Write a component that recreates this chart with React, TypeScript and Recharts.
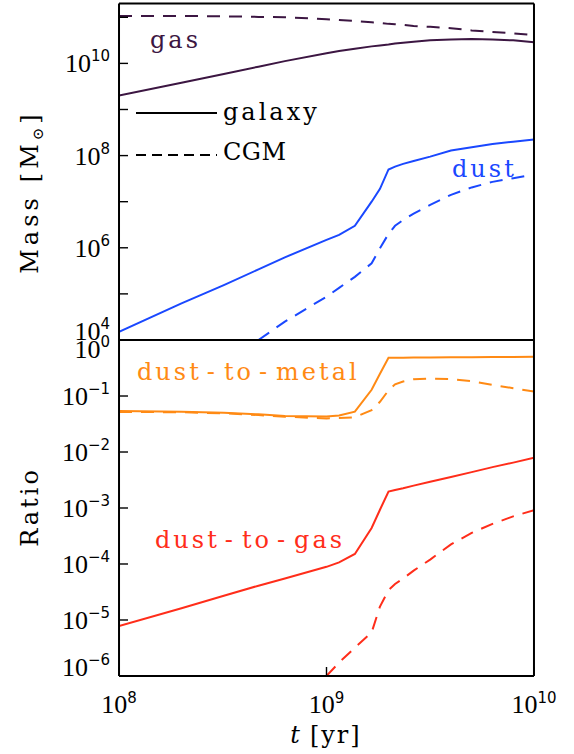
import React from 'react';
import { LineChart, Line, XAxis, YAxis, Legend } from 'recharts';

// time [yr]
const times = [1.0e8, 2.0e8, 3.2e8, 4.7e8, 6.3e8, 1.0e9, 1.15e9, 1.37e9, 1.65e9, 1.81e9, 1.99e9, 2.14e9, 2.34e9, 2.63e9, 3.16e9, 3.98e9, 5.01e9, 6.31e9, 7.94e9, 1.0e10];

// Mass panel [Msun]
const gasGalaxy = [2.0e9, 3.8e9, 5.9e9, 8.5e9, 1.12e10, 1.66e10, 1.86e10, 2.09e10, 2.34e10, 2.45e10, 2.57e10, 2.69e10, 2.82e10, 2.95e10, 3.16e10, 3.31e10, 3.39e10, 3.31e10, 3.16e10, 2.88e10];
const gasCGM = [1.07e11, 1.07e11, 1.05e11, 1.02e11, 1.0e11, 9.1e10, 8.7e10, 8.3e10, 7.8e10, 7.6e10, 7.2e10, 7.1e10, 6.9e10, 6.5e10, 6.2e10, 5.8e10, 5.2e10, 4.8e10, 4.5e10, 4.1e10];
const dustGalaxy = [1.5e4, 6.2e4, 1.55e5, 3.4e5, 6.2e5, 1.48e6, 1.9e6, 3.0e6, 1.0e7, 1.9e7, 5.0e7, 5.75e7, 6.6e7, 7.6e7, 9.5e7, 1.29e8, 1.51e8, 1.78e8, 2.0e8, 2.24e8];
const dustCGM = [null, null, null, 1.0e4, 2.5e4, 8.7e4, 1.35e5, 2.34e5, 4.6e5, 9.8e5, 2.0e6, 3.0e6, 4.0e6, 5.5e6, 8.5e6, 1.41e7, 2.04e7, 2.69e7, 3.24e7, 3.9e7];

// Ratio panel
const dtmGalaxy = [0.054, 0.0525, 0.050, 0.047, 0.044, 0.043, 0.045, 0.0525, 0.129, 0.25, 0.483, 0.484, 0.484, 0.485, 0.488, 0.49, 0.493, 0.497, 0.50, 0.504];
const dtmCGM = [0.0519, 0.0513, 0.049, 0.0457, 0.0427, 0.0398, 0.0403, 0.0417, 0.056, 0.079, 0.126, 0.162, 0.182, 0.20, 0.204, 0.20, 0.184, 0.158, 0.138, 0.12];
const dtgGalaxy = [7.8e-6, 1.62e-5, 2.7e-5, 4.1e-5, 5.5e-5, 8.9e-5, 1.07e-4, 1.51e-4, 4.4e-4, 9.3e-4, 1.96e-3, 2.09e-3, 2.25e-3, 2.51e-3, 2.95e-3, 3.57e-3, 4.37e-3, 5.37e-3, 6.46e-3, 7.9e-3];
const dtgCGM = [null, null, null, null, null, 1.0e-6, 1.74e-6, 3.2e-6, 6.0e-6, 1.74e-5, 3.4e-5, 4.4e-5, 5.5e-5, 7.6e-5, 1.2e-4, 2.24e-4, 3.6e-4, 5.2e-4, 7.1e-4, 9.1e-4];

// ticks
const xMajorTicks = [1e8, 1e9, 1e10];
const xMinorTicks = [2e8, 3e8, 4e8, 5e8, 6e8, 7e8, 8e8, 9e8, 2e9, 3e9, 4e9, 5e9, 6e9, 7e9, 8e9, 9e9];
const massTicks = [1e4, 1e5, 1e6, 1e7, 1e8, 1e9, 1e10, 1e11];
const massLabels = [1e4, 1e6, 1e8, 1e10];
const ratioMajor = [1e-6, 1e-5, 1e-4, 1e-3, 1e-2, 1e-1, 1];
const ratioMinor = [2e-6, 3e-6, 4e-6, 5e-6, 6e-6, 7e-6, 8e-6, 9e-6, 2e-5, 3e-5, 4e-5, 5e-5, 6e-5, 7e-5, 8e-5, 9e-5, 2e-4, 3e-4, 4e-4, 5e-4, 6e-4, 7e-4, 8e-4, 9e-4, 2e-3, 3e-3, 4e-3, 5e-3, 6e-3, 7e-3, 8e-3, 9e-3, 2e-2, 3e-2, 4e-2, 5e-2, 6e-2, 7e-2, 8e-2, 9e-2, 0.2, 0.3, 0.4, 0.5, 0.6, 0.7, 0.8, 0.9];

const legendItems = [
  { name: 'galaxy', dash: '' },
  { name: 'CGM', dash: '10 6' },
];

const X_DOMAIN = [1e8, 1e10];
const MASS_DOMAIN = [1e4, 2e11];
const RATIO_DOMAIN = [1e-6, 1];

const PURPLE = '#3c1642';
const BLUE = '#1a48ff';
const ORANGE = '#ff8a14';
const RED = '#ff2d1a';

const TICK_FONT = "'Liberation Serif', serif";
const EXP_FONT = "'DejaVu Sans', sans-serif";
const LABEL_FONT = "'DejaVu Serif', serif";

const AX = 0.01; // near-zero axis band so the plot area is set by the margins

const massRows = times.map((t, i) => ({ t, gasGalaxy: gasGalaxy[i], gasCGM: gasCGM[i], dustGalaxy: dustGalaxy[i], dustCGM: dustCGM[i] }));
const ratioRows = times.map((t, i) => ({ t, dtmGalaxy: dtmGalaxy[i], dtmCGM: dtmCGM[i], dtgGalaxy: dtgGalaxy[i], dtgCGM: dtgCGM[i] }));

function expText(v: number) {
  const e = Math.round(Math.log10(v));
  return e < 0 ? '\u2212' + Math.abs(e) : String(e);
}
function same(a: number, b: number) {
  return Math.abs(Math.log10(a) - Math.log10(b)) < 1e-6;
}

function makeYTick(labels: number[], lo: number, hi: number) {
  return (props: any) => {
    const { x, y, payload } = props;
    const v = payload.value;
    if (!labels.some((l) => same(l, v))) return <g />;
    let shift = 0;
    if (same(v, lo)) shift = -9;
    if (same(v, hi)) shift = 9;
    return (
      <text x={x} y={y + 9 + shift} textAnchor="end" fill="#000">
        <tspan fontFamily={TICK_FONT} fontSize={26}>10</tspan>
        <tspan fontFamily={EXP_FONT} fontSize={15} dy={-11}>{expText(v)}</tspan>
      </text>
    );
  };
}

const XTick = (props: any) => {
  const { x, y, payload } = props;
  return (
    <text x={x} y={y} textAnchor="middle" fill="#000">
      <tspan fontFamily={TICK_FONT} fontSize={26}>10</tspan>
      <tspan fontFamily={EXP_FONT} fontSize={15} dy={-10}>{expText(payload.value)}</tspan>
    </text>
  );
};

const axisLine = { stroke: '#000', strokeWidth: 2 };
const tickLine = { stroke: '#000', strokeWidth: 1.4 };

const LegendBox = () => (
  <svg width={200} height={70}>
    {legendItems.map((it, i) => (
      <g key={it.name}>
        <line x1={6} x2={87} y1={15 + i * 42} y2={15 + i * 42} stroke="#000" strokeWidth={2} strokeDasharray={it.dash || undefined} />
        <text x={93} y={22 + i * 40} fontFamily={LABEL_FONT} fontSize={24} letterSpacing={i === 0 ? 3 : 0.5} fill="#000">{it.name}</text>
      </g>
    ))}
  </svg>
);

function xAxes(prefix: string, orientation: 'top' | 'bottom', withLabels: boolean) {
  return [
    <XAxis key={prefix + 'M'} xAxisId={prefix + 'M'} dataKey="t" type="number" scale="log" domain={X_DOMAIN} allowDataOverflow orientation={orientation} height={AX} ticks={xMajorTicks} interval={0} tickSize={-9} tickMargin={46} tick={withLabels ? <XTick /> : false} axisLine={axisLine} tickLine={tickLine} />,
    <XAxis key={prefix + 'm'} xAxisId={prefix + 'm'} dataKey="t" type="number" scale="log" domain={X_DOMAIN} allowDataOverflow orientation={orientation} height={AX} ticks={xMinorTicks} interval={0} tickSize={-4.5} tick={false} axisLine={false} tickLine={tickLine} />,
  ];
}

export default function App() {
  return (
    <div style={{ position: 'absolute', left: 0, top: 0, width: 574, height: 754, background: '#fff' }}>
      <div style={{ position: 'absolute', left: 0, top: 0 }}>
        <LineChart width={574} height={345} data={massRows} margin={{ top: 3.4, right: 40, bottom: 5, left: 119 }}>
          {xAxes('b', 'bottom', false)}
          {xAxes('t', 'top', false)}
          <YAxis yAxisId="l" type="number" scale="log" domain={MASS_DOMAIN} allowDataOverflow orientation="left" width={AX} ticks={massTicks} interval={0} tickSize={-9} tickMargin={18} tick={makeYTick(massLabels, MASS_DOMAIN[0], MASS_DOMAIN[1])} axisLine={axisLine} tickLine={tickLine} />
          <YAxis yAxisId="r" type="number" scale="log" domain={MASS_DOMAIN} allowDataOverflow orientation="right" width={AX} ticks={massTicks} interval={0} tickSize={-9} tick={false} axisLine={axisLine} tickLine={tickLine} />
          <Line xAxisId="bM" yAxisId="l" type="linear" dataKey="gasCGM" stroke={PURPLE} strokeWidth={2} strokeDasharray="13 9" dot={false} isAnimationActive={false} />
          <Line xAxisId="bM" yAxisId="l" type="linear" dataKey="gasGalaxy" stroke={PURPLE} strokeWidth={2} dot={false} isAnimationActive={false} />
          <Line xAxisId="bM" yAxisId="l" type="linear" dataKey="dustCGM" stroke={BLUE} strokeWidth={2} strokeDasharray="13 9" dot={false} isAnimationActive={false} />
          <Line xAxisId="bM" yAxisId="l" type="linear" dataKey="dustGalaxy" stroke={BLUE} strokeWidth={2} dot={false} isAnimationActive={false} />
          <Legend layout="horizontal" verticalAlign="middle" align="center" wrapperStyle={{ position: 'absolute', left: 130, top: 98, width: 200, height: 70 }} content={() => <LegendBox />} />
        </LineChart>
      </div>
      <div style={{ position: 'absolute', left: 0, top: 0 }}>
        <LineChart width={574} height={754} data={ratioRows} margin={{ top: 340, right: 40, bottom: 78, left: 119 }}>
          {xAxes('b', 'bottom', true)}
          {xAxes('t', 'top', false)}
          <YAxis yAxisId="l" type="number" scale="log" domain={RATIO_DOMAIN} allowDataOverflow orientation="left" width={AX} ticks={ratioMajor} interval={0} tickSize={-9} tickMargin={18} tick={makeYTick(ratioMajor, RATIO_DOMAIN[0], RATIO_DOMAIN[1])} axisLine={axisLine} tickLine={tickLine} />
          <YAxis yAxisId="lm" type="number" scale="log" domain={RATIO_DOMAIN} allowDataOverflow orientation="left" width={AX} ticks={ratioMinor} interval={0} tickSize={-4.5} tick={false} axisLine={false} tickLine={tickLine} />
          <YAxis yAxisId="r" type="number" scale="log" domain={RATIO_DOMAIN} allowDataOverflow orientation="right" width={AX} ticks={ratioMajor} interval={0} tickSize={-9} tick={false} axisLine={axisLine} tickLine={tickLine} />
          <YAxis yAxisId="rm" type="number" scale="log" domain={RATIO_DOMAIN} allowDataOverflow orientation="right" width={AX} ticks={ratioMinor} interval={0} tickSize={-4.5} tick={false} axisLine={false} tickLine={tickLine} />
          <Line xAxisId="bM" yAxisId="l" type="linear" dataKey="dtmCGM" stroke={ORANGE} strokeWidth={2} strokeDasharray="13 9" dot={false} isAnimationActive={false} />
          <Line xAxisId="bM" yAxisId="l" type="linear" dataKey="dtmGalaxy" stroke={ORANGE} strokeWidth={2} dot={false} isAnimationActive={false} />
          <Line xAxisId="bM" yAxisId="l" type="linear" dataKey="dtgCGM" stroke={RED} strokeWidth={2} strokeDasharray="13 9" dot={false} isAnimationActive={false} />
          <Line xAxisId="bM" yAxisId="l" type="linear" dataKey="dtgGalaxy" stroke={RED} strokeWidth={2} dot={false} isAnimationActive={false} />
        </LineChart>
      </div>
      <svg width={574} height={754} style={{ position: 'absolute', left: 0, top: 0, pointerEvents: 'none' }}>
        <text x={150} y={48} fontFamily={LABEL_FONT} fontSize={24} letterSpacing={3} fill={PURPLE}>gas</text>
        <text x={452} y={177} fontFamily={LABEL_FONT} fontSize={24} letterSpacing={3} fill={BLUE}>dust</text>
        <text x={137} y={380} fontFamily={LABEL_FONT} fontSize={24} letterSpacing={3} fill={ORANGE}>
          <tspan>dust</tspan><tspan dx={5}>-</tspan><tspan dx={6}>to</tspan><tspan dx={5}>-</tspan><tspan dx={6}>metal</tspan>
        </text>
        <text x={155} y={548} fontFamily={LABEL_FONT} fontSize={24} letterSpacing={3} fill={RED}>
          <tspan>dust</tspan><tspan dx={5}>-</tspan><tspan dx={6}>to</tspan><tspan dx={5}>-</tspan><tspan dx={6}>gas</tspan>
        </text>
        <text x={38} y={192} transform="rotate(-90 38 192)" textAnchor="middle" fontFamily={LABEL_FONT} fontSize={24} letterSpacing={4} fill="#000">
          <tspan>Mass</tspan><tspan dx={12}>[M</tspan><tspan fontSize={15} dy={5}>⊙</tspan><tspan dy={-5}>]</tspan>
        </text>
        <text x={38} y={507} transform="rotate(-90 38 507)" textAnchor="middle" fontFamily={LABEL_FONT} fontSize={24} letterSpacing={3} fill="#000">Ratio</text>
        <text x={326} y={743} textAnchor="middle" fontFamily={LABEL_FONT} fontSize={24} letterSpacing={2} fill="#000">
          <tspan fontStyle="italic">t</tspan><tspan dx={8}>[yr]</tspan>
        </text>
      </svg>
    </div>
  );
}
